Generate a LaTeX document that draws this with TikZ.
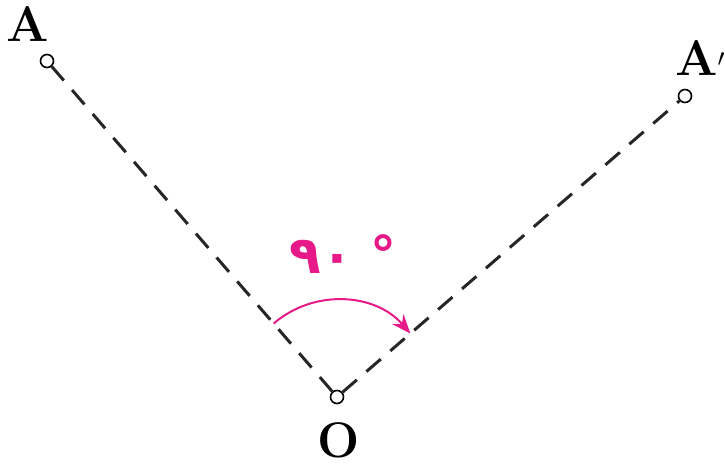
\documentclass[tikz,border=0pt]{standalone}
\usepackage{fontspec}
\newfontfamily\arabicfont[Script=Arabic]{DejaVu Sans}
\usetikzlibrary{arrows.meta}
\definecolor{mag}{RGB}{231,24,135}
\tikzset{
  pt/.style={circle,draw=black,fill=white,line width=1.6pt,minimum size=13pt,inner sep=0pt},
  dline/.style={line width=3pt,dash pattern=on 19pt off 12.6pt,black!85},
  lbl/.style={font=\fontsize{50}{50}\selectfont\bfseries,inner sep=0pt},
}
\begin{document}
\begin{tikzpicture}[x=1pt,y=-1pt]
\useasboundingbox (0,0) rectangle (725,468);
\node[pt] (A) at (47,61) {};
\node[pt] (A2) at (685,96) {};
\node[pt] (O) at (337,397) {};
\draw[dline] (O) -- (A);
\draw[dline] (O) -- (A2);
\node[lbl] (lA) at (28,24) {A};
\node[lbl] (lA2) at (700,58) {A$'$};
\node[lbl] (lO) at (339,440) {O};
\draw[mag,line width=2pt,-{Stealth[length=19pt,width=15pt]}] (O.center) ++(130.8:97pt) arc[start angle=130.8,end angle=40.9,radius=97pt];
\node[mag,font=\arabicfont\fontsize{52}{52}\selectfont\bfseries,inner sep=0pt] (deg) at (343,254) {۹۰\,\,°};
\end{tikzpicture}
\end{document}
